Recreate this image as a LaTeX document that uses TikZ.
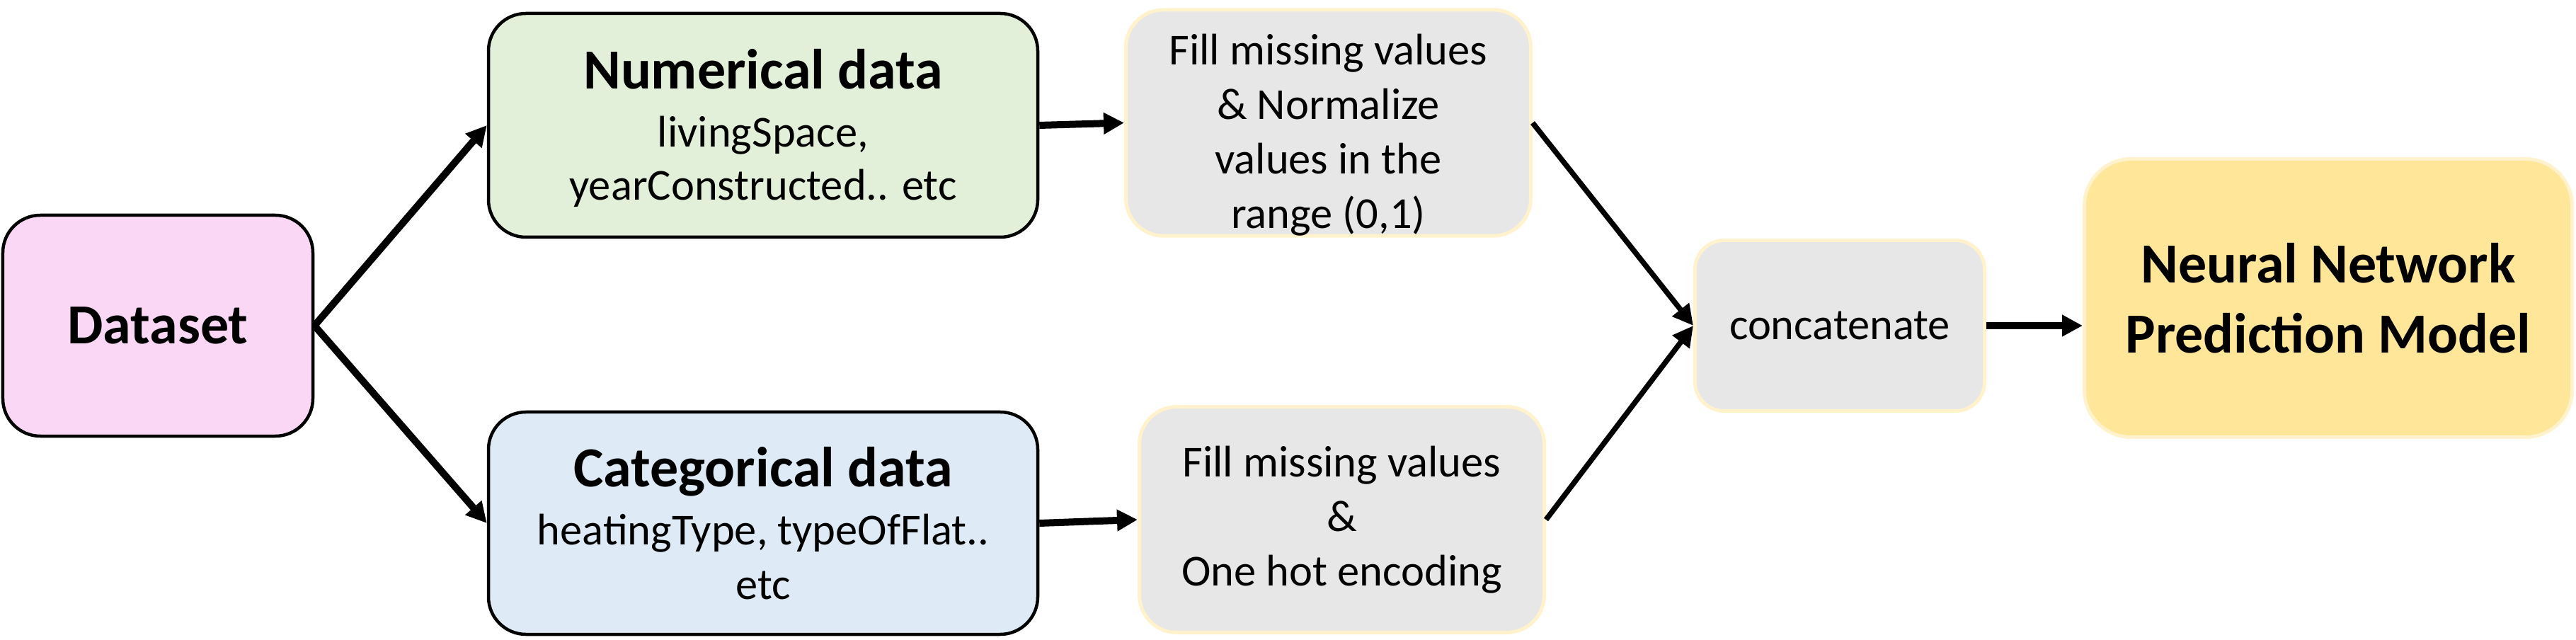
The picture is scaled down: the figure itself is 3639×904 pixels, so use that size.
\documentclass[tikz,border=0pt]{standalone}
\usepackage{fontspec}
\setmainfont{Carlito}
\usetikzlibrary{arrows.meta}
\definecolor{dspink}{RGB}{250,215,245}
\definecolor{numgreen}{RGB}{226,239,217}
\definecolor{catblue}{RGB}{222,235,247}
\definecolor{stepgray}{RGB}{231,231,231}
\definecolor{softyellow}{RGB}{255,242,204}
\definecolor{nngold}{RGB}{255,230,153}
\newcommand\txttitle{\fontsize{16}{16}\selectfont\bfseries}
\begin{document}
\begin{tikzpicture}[x=0.2pt,y=-0.2pt,
  darkbox/.style={draw=black, line width=0.9pt, rounded corners=10.6pt, align=center, inner sep=0pt},
  lightbox/.style={draw=softyellow, line width=1pt, fill=stepgray, rounded corners=10.6pt, align=center, inner sep=0pt},
  arr/.style={line width=2pt, -{Triangle[length=5.8pt,width=5.8pt]}},
  thinarr/.style={line width=1.5pt, -{Triangle[length=5.8pt,width=5.8pt]}}]
\useasboundingbox (0,0) rectangle (3639,904);

\node[darkbox, fill=dspink, minimum width=87.6pt, minimum height=62.4pt, font=\txttitle] (ds) at (223,460) {Dataset};

\node[darkbox, fill=numgreen, minimum width=155.2pt, minimum height=63.2pt, font=\fontsize{12.5}{15}\selectfont] (num) at (1078,177)
  {{\txttitle\rule{0pt}{13pt}Numerical data}\\[1.4pt] livingSpace,\\ yearConstructed.. etc};

\node[darkbox, fill=catblue, minimum width=155.2pt, minimum height=62.8pt, font=\fontsize{12.5}{15.4}\selectfont] (cat) at (1078,739)
  {{\txttitle Categorical data}\\[1pt] heatingType, typeOfFlat..\\ etc};

\node[lightbox, minimum width=114.4pt, minimum height=63.6pt, font=\fontsize{12.5}{15.4}\selectfont] (fillnum) at (1876.5,173.5)
  {\rule{0pt}{15.5pt}Fill missing values\\ \& Normalize\\ values in the\\ range (0,1)};

\node[lightbox, minimum width=114.4pt, minimum height=63.8pt, font=\fontsize{12.5}{15.4}\selectfont] (fillcat) at (1895.5,734)
  {Fill missing values\\ \&\\ One hot encoding};

\node[lightbox, rounded corners=8.2pt, minimum width=81.8pt, minimum height=48.2pt, font=\fontsize{12.5}{15.4}\selectfont] (concat) at (2599,460)
  {concatenate};

\node[lightbox, fill=nngold, rounded corners=13.2pt, minimum width=137.8pt, minimum height=78.6pt, font=\fontsize{16}{19.8}\selectfont\bfseries] (nn) at (3289,421)
  {Neural Network\\ Prediction Model};

\draw[arr] (ds.east) -- (num.west);
\draw[arr] (ds.east) -- (cat.west);
\draw[arr] (num.east) -- (fillnum.west);
\draw[arr] (cat.east) -- (fillcat.west);
\draw[thinarr] (fillnum.east) -- (concat.west);
\draw[thinarr] (fillcat.east) -- (concat.west);
\draw[arr] (concat.east) -- (concat.east -| nn.west);
\end{tikzpicture}
\end{document}
